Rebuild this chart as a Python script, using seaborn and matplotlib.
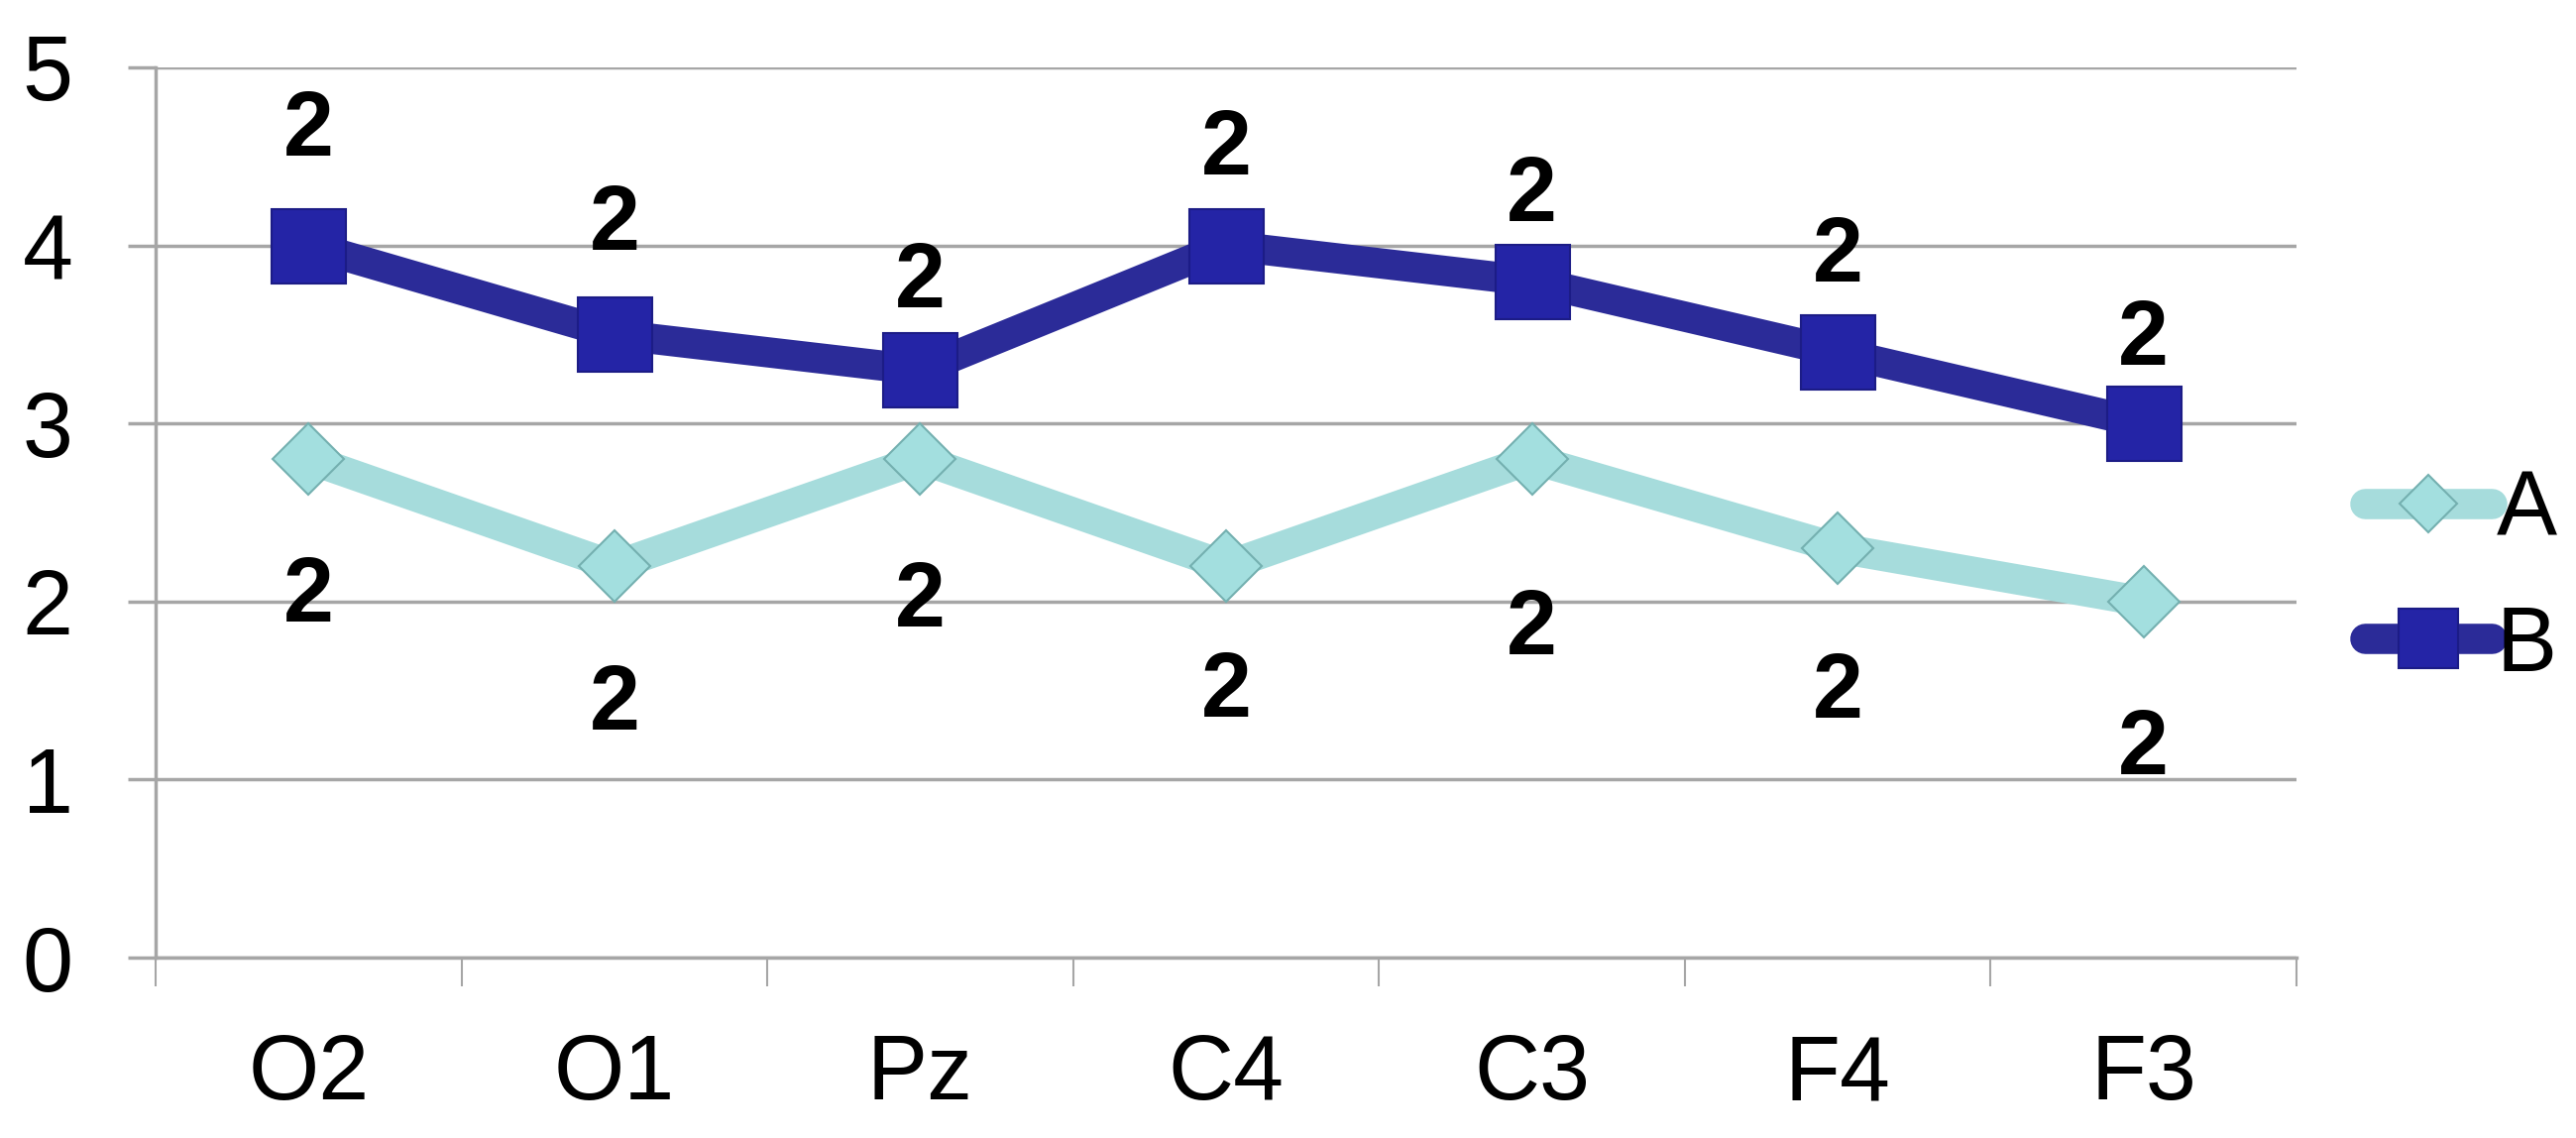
import numpy as np
import matplotlib
matplotlib.use("Agg")
import matplotlib.pyplot as plt
from matplotlib.ticker import FixedLocator
import seaborn as sns

# Channels on the x axis, in the order shown
channels = ["O2", "O1", "Pz", "C4", "C3", "F4", "F3"]

# Series values
series_a = [2.8, 2.2, 2.8, 2.2, 2.8, 2.3, 2.0]
series_b = [4.0, 3.5, 3.3, 4.0, 3.8, 3.4, 3.0]

# Data labels (as printed on the chart)
labels_a = ["2", "2", "2", "2", "2", "2", "2"]
labels_b = ["2", "2", "2", "2", "2", "2", "2"]

# Label placement: distance (px) of label centre from the point centre
label_dy_a = [-130, -132, -135, -119, -163, -138, -141]
label_dy_b = [124, 119, 97, 105, 94, 105, 93]

GRID = "#a6a6a6"
FS = 66

sns.set_style("white")
plt.rcParams['font.family'] = ['Liberation Sans', 'DejaVu Sans']
plt.rcParams['text.color'] = 'black'

fig = plt.figure(figsize=(25.99, 11.48), dpi=100)
ax = fig.add_axes([0.0604, 0.1585, 0.8311, 0.7823])

sns.lineplot(x=channels, y=series_a, ax=ax, label="A", color="#a6dcdc",
             linewidth=22, marker="D", markersize=37,
             markerfacecolor="#a3dfdf", markeredgecolor="#74b0b0",
             markeredgewidth=1.5)
sns.lineplot(x=channels, y=series_b, ax=ax, label="B", color="#2b2b98",
             linewidth=22, marker="s", markersize=54,
             markerfacecolor="#2424a6", markeredgecolor="#1c1c86",
             markeredgewidth=1.5)

ax.set_xlim(-0.5, 6.5)
ax.set_ylim(0, 5)
ax.set_xlabel("")
ax.set_ylabel("")

# y axis: gridlines extend left as ticks
ax.set_yticks(range(6))
ax.tick_params(axis="y", left=True, length=20, width=2.5, color=GRID,
               pad=40, labelsize=FS, labelcolor="black")
ax.grid(axis="y", color=GRID, linewidth=2.5)
ax.set_axisbelow(True)

# x axis: labels at categories, tick marks between categories
ax.set_xticks(range(len(channels)))
ax.set_xticklabels(channels)
ax.tick_params(axis="x", which="major", bottom=True, length=0, pad=55,
               labelsize=FS, labelcolor="black")
ax.xaxis.set_minor_locator(FixedLocator(np.arange(-0.5, len(channels), 1)))
ax.tick_params(axis="x", which="minor", bottom=True, length=21, width=1.5,
               color=GRID)

for side in ["top", "right"]:
    ax.spines[side].set_visible(False)
for side in ["left", "bottom"]:
    ax.spines[side].set_color(GRID)
    ax.spines[side].set_linewidth(2.5)

# data labels
for i, (val, lab, dy) in enumerate(zip(series_a, labels_a, label_dy_a)):
    ax.annotate(lab, xy=(i, val), xytext=(0, dy * 0.72), textcoords="offset points",
                ha="center", va="center_baseline", fontsize=FS,
                fontweight="bold", color="black")
for i, (val, lab, dy) in enumerate(zip(series_b, labels_b, label_dy_b)):
    ax.annotate(lab, xy=(i, val), xytext=(0, dy * 0.72), textcoords="offset points",
                ha="center", va="center_baseline", fontsize=FS,
                fontweight="bold", color="black")

leg = ax.legend(loc="center left", bbox_to_anchor=(0.918, 0.491),
                bbox_transform=fig.transFigure, frameon=False, fontsize=FS,
                handlelength=1.4, handletextpad=0.05, labelspacing=0.55,
                borderpad=0, borderaxespad=0, markerscale=0.8)
for txt in leg.get_texts():
    txt.set_color("black")

fig.savefig("out.png", dpi=100)
plt.close(fig)
